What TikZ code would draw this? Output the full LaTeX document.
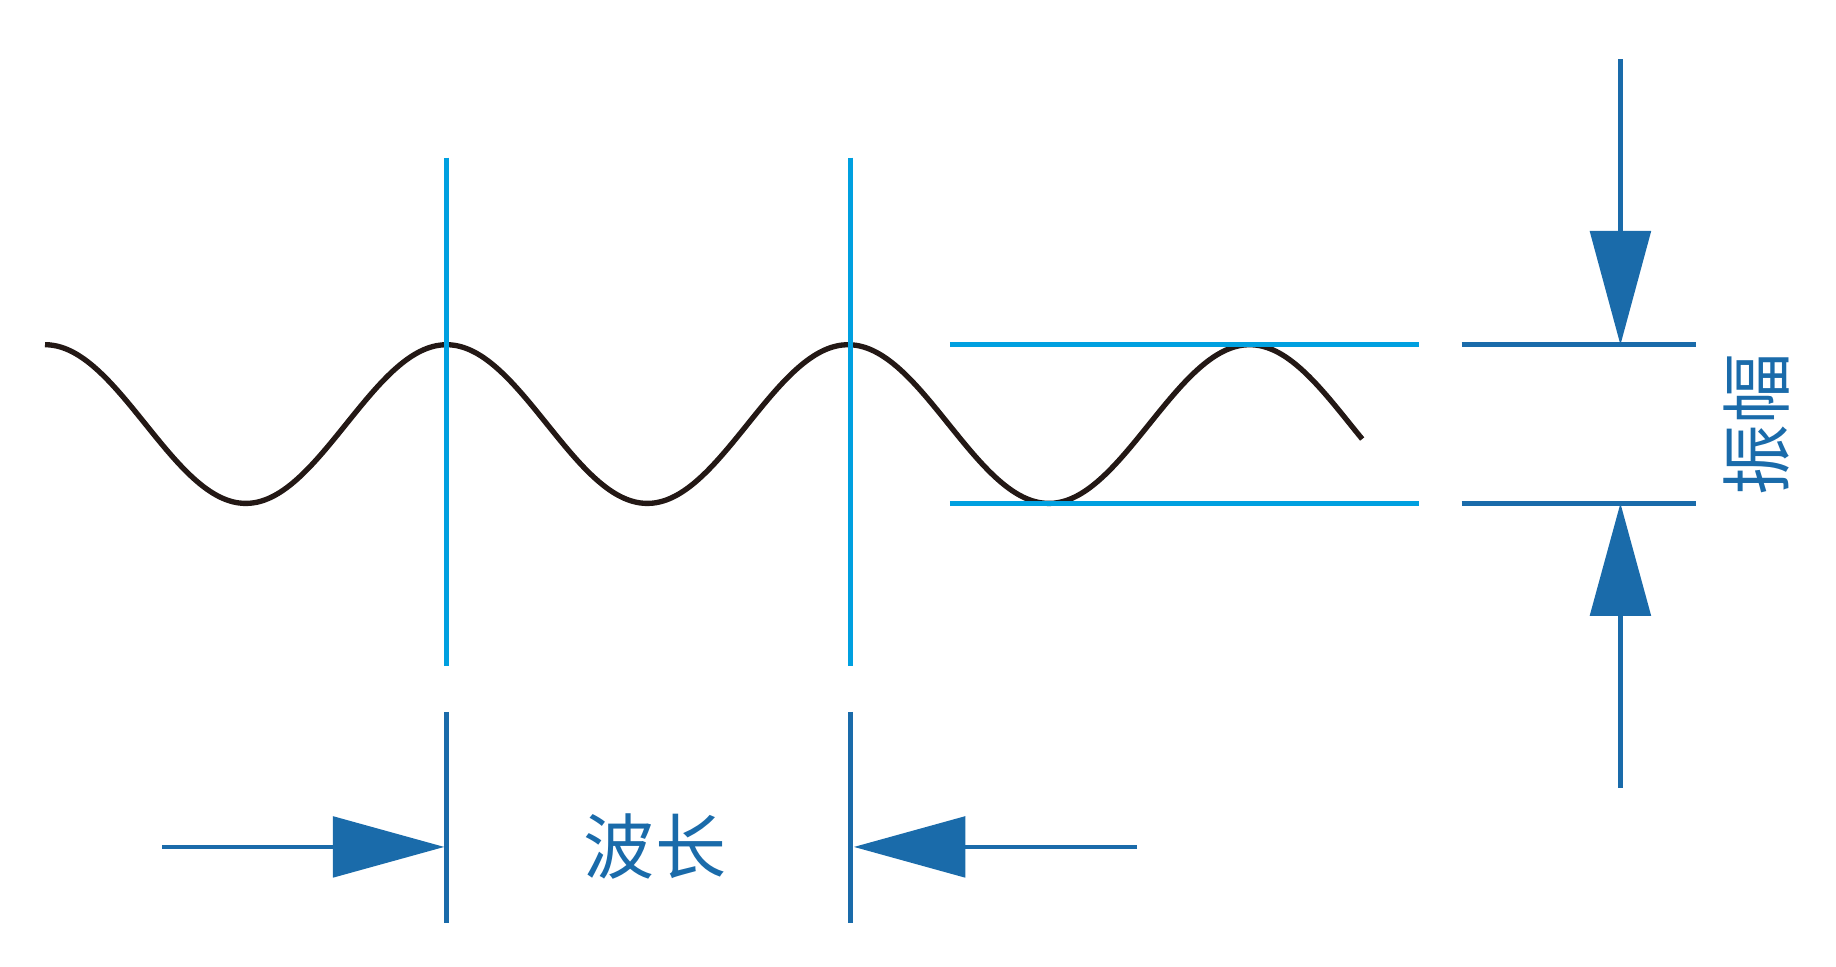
\documentclass[tikz,border=0pt]{standalone}
\usepackage{fontspec}
\newfontfamily\cjk{Noto Sans CJK SC}
\definecolor{lb}{HTML}{00A0E0}
\definecolor{db}{HTML}{1A6BAA}
\definecolor{wv}{HTML}{231815}
\begin{document}
\begin{tikzpicture}[x=1pt,y=-1pt,
  lbl/.style={lb,line width=4pt},
  dbl/.style={db,line width=4pt},
  head/.style={fill=db,draw=none},
  txt/.style={db,font=\cjk\fontsize{60}{60}\selectfont,inner sep=0}]
\useasboundingbox (0,0) rectangle (1550,816);
\draw[wv,line width=4.5pt,domain=38:1150,samples=300,smooth] plot (\x,{358-67*cos(1.0619469*(\x-377))});
% vertical light lines
\draw[lbl] (377,133) -- (377,562);
\draw[lbl] (718,133) -- (718,562);
\draw[dbl] (377,601) -- (377,779);
\draw[dbl] (718,601) -- (718,779);
% horizontal arrows
\coordinate (la) at (137,715); \coordinate (lt) at (375,715);
\coordinate (ra) at (960,715); \coordinate (rt) at (721,715);
\draw[dbl] (la) -- (290,715);
\fill[head] (lt) -- (281,689) -- (281,741) -- cycle;
\draw[dbl] (ra) -- (810,715);
\fill[head] (rt) -- (815,689) -- (815,741) -- cycle;
\node[txt] (wl) at (553,715) {波长};
% amplitude lines
\draw[lbl] (802,291) -- (1198,291);
\draw[lbl] (802,425) -- (1198,425);
\draw[dbl] (1234,291) -- (1432,291);
\draw[dbl] (1234,425) -- (1432,425);
\coordinate (ta) at (1368,50); \coordinate (tt) at (1368,291);
\coordinate (ba) at (1368,665); \coordinate (bt) at (1368,425);
\draw[dbl] (ta) -- (1368,200);
\fill[head] (tt) -- (1342,195) -- (1394,195) -- cycle;
\draw[dbl] (ba) -- (1368,515);
\fill[head] (bt) -- (1342,520) -- (1394,520) -- cycle;
\node[txt,rotate=90] (am) at (1483,358) {振幅};
\end{tikzpicture}
\end{document}
